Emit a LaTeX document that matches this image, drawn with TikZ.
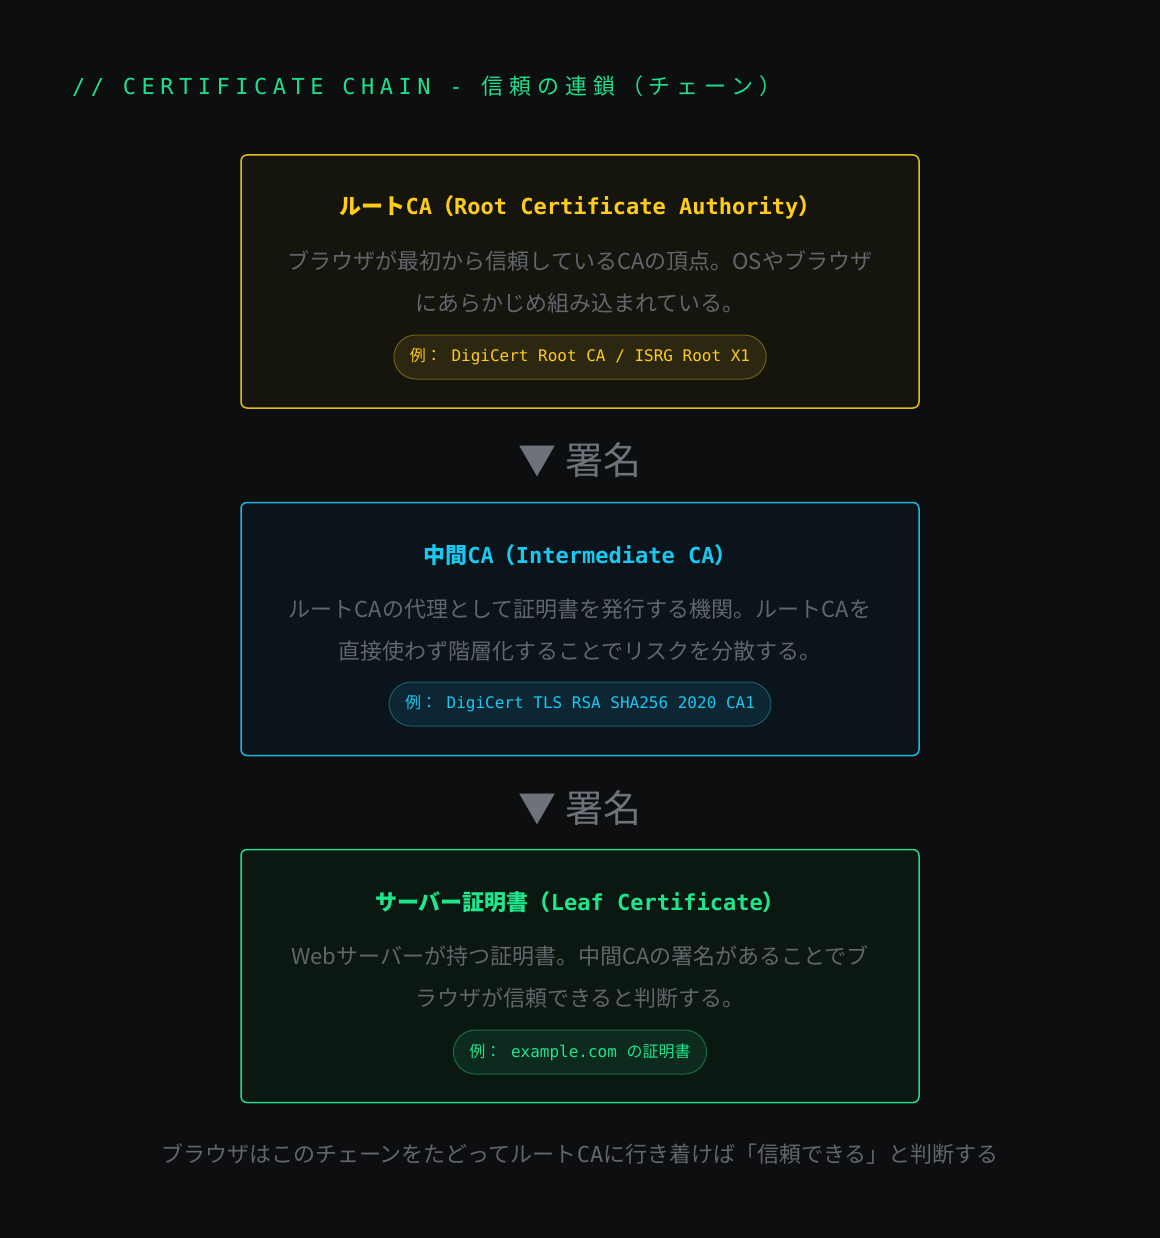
\documentclass[tikz,border=0pt]{standalone}
\usepackage{fontspec}
\usepackage{xcolor}
\newfontfamily\jpfont{Noto Sans CJK JP}
\newfontfamily\mono{DejaVu Sans Mono}
\newfontfamily\hdmono[LetterSpace=25]{DejaVu Sans Mono}
\newfontfamily\hdjp[LetterSpace=27]{Noto Sans CJK JP}
\newcommand\J[1]{{\jpfont\bfseries #1}}
\definecolor{bg}{HTML}{0D0E10}
\definecolor{hdgreen}{HTML}{1DE08C}
\definecolor{bodygray}{HTML}{62666C}
\definecolor{siggray}{HTML}{6E727A}
\definecolor{ylwT}{HTML}{FFCC1A}
\definecolor{ylwB}{HTML}{E0BE1E}
\definecolor{ylwF}{HTML}{15150D}
\definecolor{ylwPF}{HTML}{2B2710}
\definecolor{ylwPB}{HTML}{6E5F16}
\definecolor{cynT}{HTML}{19C8F0}
\definecolor{cynB}{HTML}{1FB8DC}
\definecolor{cynF}{HTML}{0A141A}
\definecolor{cynPF}{HTML}{0C2733}
\definecolor{cynPB}{HTML}{1B5B6E}
\definecolor{grnT}{HTML}{1EE68A}
\definecolor{grnB}{HTML}{25D98A}
\definecolor{grnF}{HTML}{0B1711}
\definecolor{grnPF}{HTML}{0D2A1E}
\definecolor{grnPB}{HTML}{1A6B47}

\begin{document}
\begin{tikzpicture}[x=1pt,y=-1pt,
  cabox/.style={draw=#1B,fill=#1F,line width=1.5pt,rounded corners=6pt,minimum width=678pt,minimum height=253pt,inner sep=0pt},
  catitle/.style={text=#1T,font=\mono\bfseries\fontsize{22}{26}\selectfont,inner sep=0pt},
  cadesc/.style={text=bodygray,font=\jpfont\fontsize{22}{42}\selectfont,align=center,inner sep=0pt},
  expill/.style={draw=#1PB,fill=#1PF,text=#1T,line width=1pt,rounded corners=22pt,minimum height=44pt,inner xsep=16pt,font=\mono\fontsize{16}{20}\selectfont},
  signed/.style={text=siggray,font=\jpfont\fontsize{38}{40}\selectfont,inner sep=0pt}]
\fill[bg] (0,0) rectangle (1160,1238);
\useasboundingbox (0,0) rectangle (1160,1238);

% header
\node (hdr) [anchor=west,text=hdgreen,inner sep=0pt] at (72,86) {\fontsize{22}{26}\selectfont\hdmono // CERTIFICATE CHAIN - {\hdjp 信頼の連鎖（チェーン）}};

% root CA
\node (root) [cabox=ylw] at (580,281.5) {};
\node (rootT) [catitle=ylw] at (580,207) {\J{ルート}CA\J{（}Root Certificate Authority\J{）}};
\node (rootD) [cadesc] at (580,282) {ブラウザが最初から信頼しているCAの頂点。OSやブラウザ\\にあらかじめ組み込まれている。};
\node (rootEx) [expill=ylw] at (580,357) {{\jpfont 例：} DigiCert Root CA / ISRG Root X1};

\node (sig1) [signed] at (580,460) {▼ 署名};

% intermediate CA
\node (inter) [cabox=cyn] at (580,629) {};
\node (interT) [catitle=cyn] at (580,555) {\J{中間}CA\J{（}Intermediate CA\J{）}};
\node (interD) [cadesc] at (580,630) {ルートCAの代理として証明書を発行する機関。ルートCAを\\直接使わず階層化することでリスクを分散する。};
\node (interEx) [expill=cyn] at (580,704) {{\jpfont 例：} DigiCert TLS RSA SHA256 2020 CA1};

\node (sig2) [signed] at (580,808) {▼ 署名};

% leaf
\node (leaf) [cabox=grn] at (580,976) {};
\node (leafT) [catitle=grn] at (580,902) {\J{サーバー証明書（}Leaf Certificate\J{）}};
\node (leafD) [cadesc] at (580,977) {Webサーバーが持つ証明書。中間CAの署名があることでブ\\ラウザが信頼できると判断する。};
\node (leafEx) [expill=grn] at (580,1052) {{\jpfont 例：} example.com {\jpfont の証明書}};

% footer
\node (foot) [text=bodygray,font=\jpfont\fontsize{22}{24}\selectfont,inner sep=0pt] at (580,1154) {ブラウザはこのチェーンをたどってルート{\mono CA}に行き着けば「信頼できる」と判断する};
\end{tikzpicture}
\end{document}
